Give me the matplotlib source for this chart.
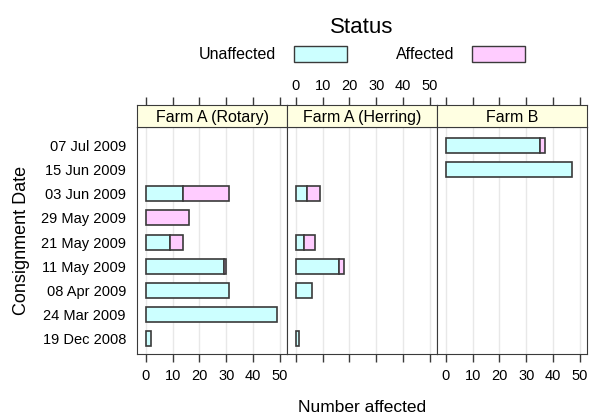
import matplotlib
matplotlib.use("Agg")
import matplotlib.pyplot as plt
from matplotlib.patches import Patch

plt.rcParams['font.family'] = ['Liberation Sans', 'DejaVu Sans']

# consignment dates, bottom to top
dates = ['19 Dec 2008', '24 Mar 2009', '08 Apr 2009', '11 May 2009', '21 May 2009',
         '29 May 2009', '03 Jun 2009', '15 Jun 2009', '07 Jul 2009']
farms = ['Farm A (Rotary)', 'Farm A (Herring)', 'Farm B']

rotary_unaff = [2, 49, 31, 29, 9, 0, 14, 0, 0]
rotary_aff = [0, 0, 0, 1, 5, 16, 17, 0, 0]
herring_unaff = [1, 0, 6, 16, 3, 0, 4, 0, 0]
herring_aff = [0, 0, 0, 2, 4, 0, 5, 0, 0]
farmb_unaff = [0, 0, 0, 0, 0, 0, 0, 47, 35]
farmb_aff = [0, 0, 0, 0, 0, 0, 0, 0, 2]

unaff = [rotary_unaff, herring_unaff, farmb_unaff]
aff = [rotary_aff, herring_aff, farmb_aff]

xticks = [0, 10, 20, 30, 40, 50]

C_UN = '#CCFFFF'
C_AF = '#FFCCFF'
EDGE = '#3a3a3a'
STRIP = '#FFFFE2'
W, H = 590, 417

fig = plt.figure(figsize=(5.9, 4.17), dpi=100)

lefts = [137, 287, 437]
for i in range(3):
    l = lefts[i] / W
    w = 150 / W
    ax = fig.add_axes([l, 1 - 354 / H, w, (354 - 127) / H])
    sx = fig.add_axes([l, 1 - 127 / H, w, 22 / H], sharex=ax)

    ys, ws, ls = [], [], []
    ya, wa, la = [], [], []
    for j in range(len(dates)):
        if unaff[i][j] > 0:
            ys.append(j); ws.append(unaff[i][j]); ls.append(0)
        if aff[i][j] > 0:
            ya.append(j); wa.append(aff[i][j]); la.append(unaff[i][j])
    ax.barh(ys, ws, left=ls, height=0.62, color=C_UN, edgecolor=EDGE, linewidth=1.2, zorder=3)
    ax.barh(ya, wa, left=la, height=0.62, color=C_AF, edgecolor=EDGE, linewidth=1.2, zorder=3)

    ax.set_xlim(-3.3, 52.7)
    ax.set_ylim(-0.62, 8.75)
    ax.set_xticks(xticks)
    for x in xticks:
        ax.axvline(x, color='#E8E8E8', lw=1, zorder=1)
    ax.tick_params(axis='x', direction='out', length=6, width=1, color=EDGE,
                   labelsize=10.5, pad=5, labelbottom=(i != 1))
    ax.set_yticks(range(len(dates)))
    if i == 0:
        ax.set_yticklabels(dates, fontsize=10.5)
        ax.tick_params(axis='y', length=0, pad=8)
    else:
        ax.tick_params(axis='y', length=0, labelleft=False)
    for s in ax.spines.values():
        s.set_color(EDGE)

    sx.set_facecolor(STRIP)
    sx.set_yticks([])
    sx.xaxis.tick_top()
    sx.tick_params(axis='x', direction='out', length=6, width=1, color=EDGE,
                   labelsize=10.5, pad=3, labeltop=(i == 1), labelbottom=False)
    sx.text(0.5, 0.45, farms[i], transform=sx.transAxes, ha='center', va='center', fontsize=11.5)
    for s in sx.spines.values():
        s.set_color(EDGE)

fig.text(22 / W, 1 - 240 / H, 'Consignment Date', rotation=90, ha='center', va='center', fontsize=13)
fig.text(362 / W, 1 - 408 / H, 'Number affected', ha='center', va='center', fontsize=12.5)

handles = [Patch(facecolor=C_UN, edgecolor=EDGE, linewidth=1),
           Patch(facecolor=C_AF, edgecolor=EDGE, linewidth=1)]
leg = fig.legend(handles, ['Unaffected', 'Affected'], ncol=2, markerfirst=False,
                 title='Status', frameon=False, loc='upper center',
                 bbox_to_anchor=(362 / W, 1 - 6 / H), fontsize=11.5,
                 handlelength=3.3, handleheight=1.13, handletextpad=1.1,
                 columnspacing=3.1, borderpad=0.2)
leg.get_title().set_fontsize(16)

fig.savefig('out.png', dpi=100)
